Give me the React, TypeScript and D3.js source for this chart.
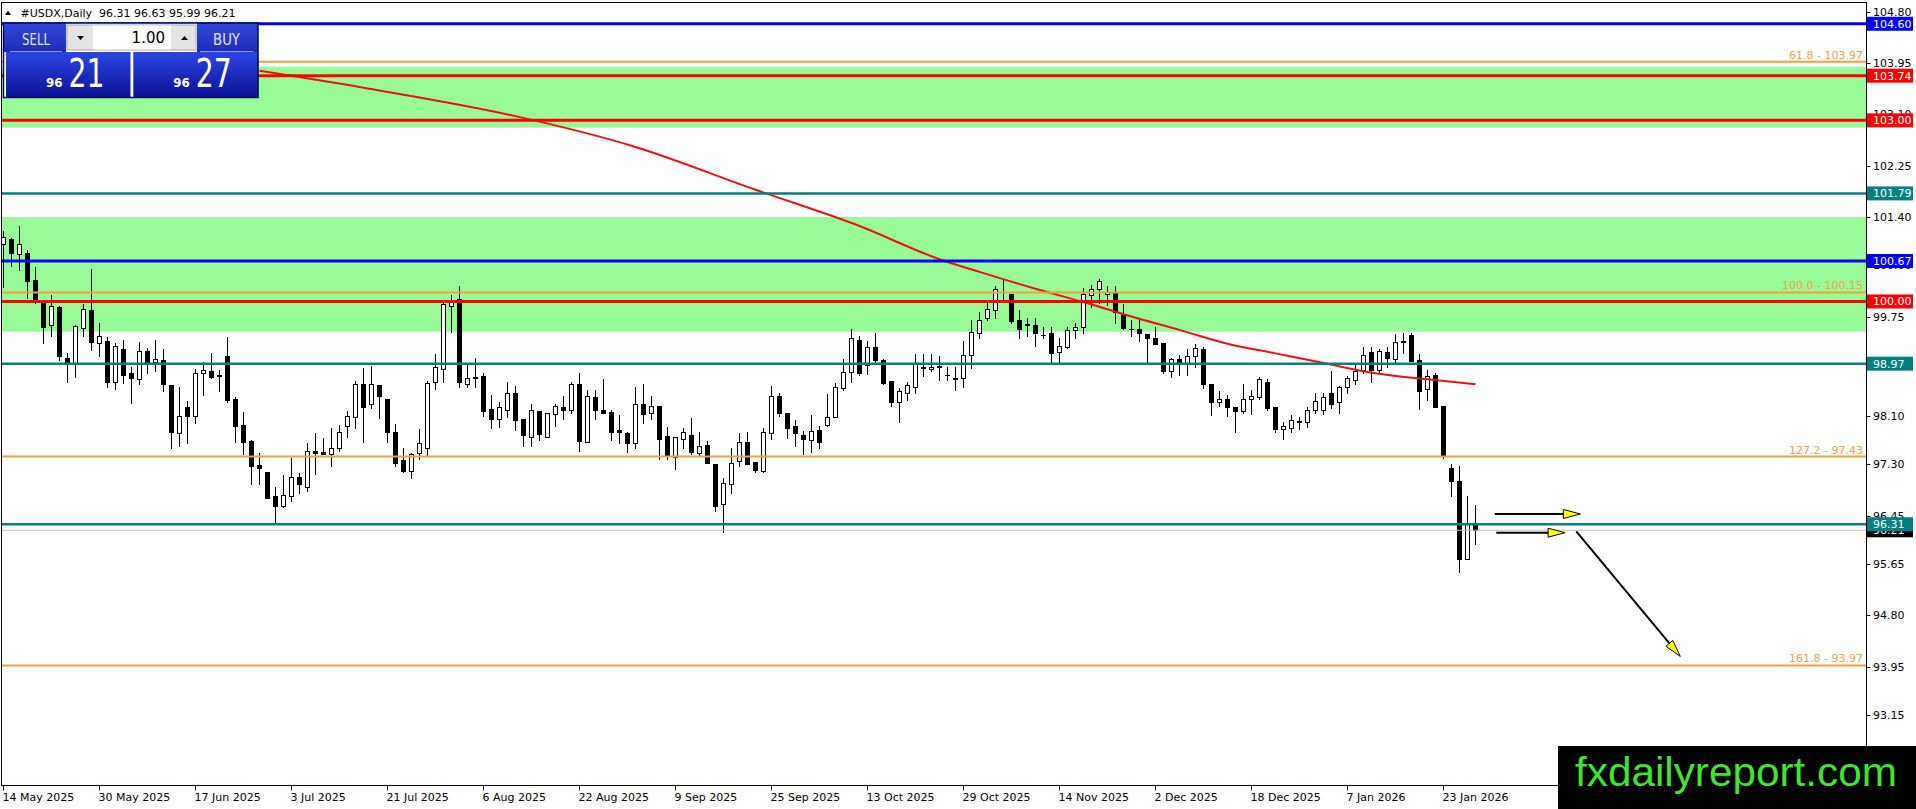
import React, { useEffect, useRef } from "react";
import * as d3 from "d3";

// daily candles, 14 May 2025 .. 27 Jan 2026
const opens = [
  100.96, 101.03, 100.78, 100.81, 100.36, 99.99, 99.61, 99.91, 99.06, 98.96,
  99.56, 99.86, 99.31, 99.34, 98.67, 99.22, 98.81, 98.71, 99.18, 98.99,
  99.03, 98.62, 97.82, 98.25, 98.11, 98.81, 98.85, 98.78, 99.1, 98.39,
  97.95, 97.69, 97.29, 97.17, 96.77, 96.62, 96.77, 97.09, 96.93, 97.52,
  97.5, 97.48, 97.58, 97.94, 98.08, 98.63, 98.3, 98.62, 98.38, 97.83,
  97.37, 97.19, 97.49, 97.58, 98.66, 98.88, 99.93, 100.04, 98.63, 98.75,
  98.77, 98.22, 98.05, 98.21, 98.49, 98.05, 97.76, 98.19, 97.76, 98.13,
  98.25, 98.21, 98.63, 97.68, 98.42, 98.21, 98.17, 97.87, 97.82, 97.66,
  98.3, 98.15, 98.27, 97.77, 97.43, 97.73, 97.79, 97.49, 97.62, 97.31,
  96.64, 96.98, 97.35, 97.67, 97.34, 97.19, 97.82, 98.44, 98.16, 97.94,
  97.79, 97.71, 97.87, 97.96, 98.09, 98.56, 98.83, 99.37, 98.95, 99.24,
  99.03, 98.68, 98.33, 98.48, 98.58, 98.92, 98.88, 98.93, 98.79, 98.73,
  98.73, 99.12, 99.47, 99.73, 99.86, 100.16, 100.13, 99.69, 99.62, 99.61,
  99.45, 99.47, 99.16, 99.25, 99.53, 99.58, 100.1, 100.2, 100.13, 100.16,
  99.8, 99.55, 99.54, 99.46, 99.4, 99.31, 98.84, 99.04, 98.96, 99.09,
  99.21, 98.63, 98.33, 98.38, 98.25, 98.19, 98.38, 98.41, 98.66, 98.25,
  97.88, 97.9, 98.02, 98.0, 98.2, 98.2, 98.48, 98.33, 98.58, 98.7,
  98.86, 99.16, 98.86, 99.16, 99.04, 99.35, 99.44, 99.03, 98.55, 98.78,
  98.27, 97.24, 97.03, 95.73, 96.31,
];
const highs = [
  101.16, 101.05, 101.25, 100.86, 100.57, 100.01, 100.11, 99.93, 99.14, 99.61,
  99.96, 100.54, 99.65, 99.41, 99.32, 99.37, 98.92, 99.33, 99.23, 99.37,
  99.21, 98.62, 98.58, 98.35, 98.88, 98.99, 99.15, 98.87, 99.41, 98.41,
  98.17, 97.71, 97.49, 97.17, 96.92, 97.13, 97.4, 97.16, 97.65, 97.82,
  97.74, 97.9, 97.95, 98.18, 98.69, 98.89, 98.93, 98.62, 98.38, 97.97,
  97.58, 97.49, 97.89, 98.69, 99.13, 99.97, 100.1, 100.26, 98.96, 99.06,
  98.82, 98.45, 98.34, 98.66, 98.6, 98.05, 98.3, 98.19, 98.16, 98.3,
  98.43, 98.67, 98.81, 98.53, 98.54, 98.71, 98.2, 98.12, 97.83, 98.59,
  98.63, 98.43, 98.27, 97.92, 97.75, 97.9, 98.07, 97.83, 97.69, 97.31,
  97.07, 97.58, 97.82, 97.83, 97.34, 97.9, 98.6, 98.48, 98.16, 98.03,
  97.86, 98.12, 97.94, 98.47, 98.65, 99.04, 99.54, 99.42, 99.34, 99.47,
  99.04, 98.68, 98.56, 98.67, 99.13, 99.13, 99.13, 99.1, 98.92, 98.92,
  99.34, 99.7, 99.82, 99.97, 100.26, 100.36, 100.13, 99.86, 99.72, 99.72,
  99.58, 99.58, 99.39, 99.58, 99.64, 100.23, 100.28, 100.38, 100.26, 100.26,
  99.95, 99.69, 99.71, 99.46, 99.57, 99.31, 99.06, 99.11, 99.21, 99.29,
  99.25, 98.63, 98.51, 98.45, 98.25, 98.63, 98.54, 98.75, 98.71, 98.25,
  98.01, 98.12, 98.09, 98.25, 98.48, 98.49, 98.85, 98.6, 98.77, 98.98,
  99.24, 99.24, 99.22, 99.24, 99.46, 99.47, 99.47, 99.13, 98.87, 98.81,
  98.27, 97.31, 97.28, 96.78, 96.63,
];
const lows = [
  100.24, 100.58, 100.52, 100.05, 99.97, 99.32, 99.42, 99.03, 98.67, 98.75,
  99.42, 99.2, 99.1, 98.59, 98.55, 98.65, 98.32, 98.64, 98.81, 98.84,
  98.51, 97.58, 97.61, 97.66, 97.99, 98.45, 98.73, 98.52, 98.33, 97.68,
  97.47, 96.97, 96.97, 96.74, 96.35, 96.59, 96.69, 96.83, 96.86, 97.15,
  97.47, 97.27, 97.53, 97.75, 97.91, 97.68, 98.24, 98.07, 97.68, 97.27,
  97.18, 97.08, 97.39, 97.46, 98.55, 98.67, 99.5, 98.59, 98.59, 98.59,
  98.11, 97.9, 97.92, 98.08, 97.87, 97.61, 97.61, 97.71, 97.76, 97.93,
  98.05, 98.16, 97.53, 97.68, 98.05, 98.15, 97.71, 97.66, 97.51, 97.58,
  97.99, 98.05, 97.39, 97.39, 97.22, 97.57, 97.47, 97.46, 97.33, 96.53,
  96.18, 96.82, 97.28, 97.31, 97.18, 97.18, 97.72, 98.11, 97.74, 97.61,
  97.47, 97.5, 97.58, 97.94, 98.09, 98.53, 98.67, 98.79, 98.8, 99.0,
  98.63, 98.27, 98.01, 98.37, 98.49, 98.77, 98.85, 98.7, 98.7, 98.54,
  98.59, 98.9, 99.4, 99.69, 99.72, 99.99, 99.65, 99.39, 99.43, 99.27,
  99.4, 98.99, 98.99, 99.23, 99.39, 99.47, 99.91, 99.97, 99.94, 99.64,
  99.54, 99.42, 99.35, 98.99, 99.3, 98.81, 98.75, 98.78, 98.78, 98.92,
  98.57, 98.12, 98.27, 98.1, 97.84, 98.16, 98.14, 98.39, 98.2, 97.83,
  97.72, 97.83, 97.89, 97.92, 98.16, 98.13, 98.23, 98.15, 98.48, 98.64,
  98.81, 98.66, 98.81, 98.92, 98.98, 99.14, 99.02, 98.22, 98.37, 98.26,
  97.4, 96.78, 95.52, 95.73, 95.99,
];
const closes = [
  101.06, 100.81, 100.96, 100.34, 100.04, 99.58, 99.93, 99.09, 99.0, 99.59,
  99.87, 99.33, 99.43, 98.67, 99.26, 98.79, 98.73, 99.18, 98.99, 99.04,
  98.63, 97.84, 98.11, 98.11, 98.81, 98.86, 98.75, 98.76, 98.36, 97.94,
  97.68, 97.28, 97.24, 96.75, 96.62, 96.79, 97.1, 96.97, 97.53, 97.49,
  97.48, 97.58, 97.84, 98.1, 98.63, 98.26, 98.63, 98.44, 97.83, 97.33,
  97.19, 97.47, 97.65, 98.65, 98.91, 99.96, 100.01, 98.67, 98.73, 98.74,
  98.19, 98.06, 98.25, 98.49, 98.04, 97.78, 98.2, 97.8, 98.15, 98.27,
  98.21, 98.63, 97.69, 98.43, 98.2, 98.16, 97.84, 97.83, 97.66, 98.3,
  98.13, 98.27, 97.72, 97.46, 97.75, 97.83, 97.51, 97.6, 97.33, 96.62,
  97.0, 97.33, 97.67, 97.31, 97.21, 97.84, 98.44, 98.16, 97.91, 97.82,
  97.72, 97.86, 97.68, 98.08, 98.58, 98.83, 99.39, 98.82, 99.24, 99.03,
  98.65, 98.34, 98.52, 98.62, 98.96, 98.89, 98.92, 98.91, 98.79, 98.71,
  99.11, 99.49, 99.7, 99.87, 100.2, 100.15, 99.68, 99.54, 99.61, 99.47,
  99.44, 99.15, 99.26, 99.52, 99.57, 100.12, 100.2, 100.34, 100.16, 99.83,
  99.56, 99.55, 99.47, 99.39, 99.3, 98.85, 99.04, 99.0, 99.1, 99.23,
  98.63, 98.34, 98.38, 98.26, 98.19, 98.38, 98.43, 98.72, 98.24, 97.88,
  97.94, 98.04, 98.0, 98.2, 98.35, 98.41, 98.3, 98.58, 98.73, 98.85,
  99.12, 98.86, 99.18, 99.07, 99.33, 99.33, 99.02, 98.52, 98.77, 98.26,
  97.44, 97.02, 95.73, 96.33, 96.21,
];

// moving average (bar index, value)
const maBars = [32, 45, 64, 79, 94, 107, 117, 122, 129, 135, 141, 147, 153, 159, 165, 171.5, 178, 184];
const maValues = [103.82, 103.54, 103.07, 102.56, 101.85, 101.25, 100.7, 100.49, 100.21, 99.99, 99.75, 99.53, 99.3, 99.14, 98.98, 98.81, 98.71, 98.63];

const dateBars = [0, 12, 24, 36, 48, 60, 72, 84, 96, 108, 120, 132, 144, 156, 168, 180];
const dateLabels = [
  "14 May 2025", "30 May 2025", "17 Jun 2025", "3 Jul 2025", "21 Jul 2025", "6 Aug 2025",
  "22 Aug 2025", "9 Sep 2025", "25 Sep 2025", "13 Oct 2025", "29 Oct 2025", "14 Nov 2025",
  "2 Dec 2025", "18 Dec 2025", "7 Jan 2026", "23 Jan 2026",
];
// 98.90 sits fully under the 98.97 tag, so it is left out
const priceTicks = [104.8, 103.95, 103.1, 102.25, 101.4, 100.6, 99.75, 98.1, 97.3, 96.45, 95.65, 94.8, 93.95, 93.15];

// objects on the chart
const zoneLows = [102.88, 99.5];
const zoneHighs = [103.89, 101.4];
const blueLevels = [104.6, 100.67];
const redLevels = [103.74, 103.0, 100.0];
const tealLevels = [101.79, 98.97, 96.31];
const fibLevels = [103.97, 100.15, 97.43, 93.97];
const fibRatios = ["61.8", "100.0", "127.2", "161.8"];
const bid = 96.21;
const ask = 96.27;
const lot = "1.00";

const arrowFromBars = [186.4, 186.6, 196.6];
const arrowFromPrices = [96.48, 96.17, 96.19];
const arrowToBars = [197.1, 195.2, 209.6];
const arrowToPrices = [96.48, 96.17, 94.12];

const W = 1916;
const H = 809;
const PLOT_R = 1866.5;
const PLOT_B = 785.5;
const FONT = "'DejaVu Sans', Tahoma, sans-serif";

export default function App() {
  const ref = useRef<SVGSVGElement>(null);

  useEffect(() => {
    if (!ref.current) return;
    const svg = d3.select(ref.current);
    svg.selectAll("*").remove();

    const x = d3.scaleLinear().domain([0, 184]).range([3.5, 3.5 + 8 * 184]);
    const y = d3.scaleLinear().domain([93.15, 104.8]).range([715, 11.7]);
    const px = (i: number) => Math.floor(x(i)) + 0.5;
    const py = (v: number) => Math.round(y(v)) + 0.5;

    svg.append("rect").attr("width", W).attr("height", H).attr("fill", "#fff");

    const defs = svg.append("defs");
    defs.append("clipPath").attr("id", "plot")
      .append("rect").attr("x", 2).attr("y", 3).attr("width", PLOT_R - 2).attr("height", PLOT_B - 3);
    const g1 = defs.append("linearGradient").attr("id", "bigbox").attr("x1", 0).attr("y1", 0).attr("x2", 0).attr("y2", 1);
    g1.append("stop").attr("offset", "0%").attr("stop-color", "#2a46e4");
    g1.append("stop").attr("offset", "100%").attr("stop-color", "#0a1294");
    const g2 = defs.append("linearGradient").attr("id", "smallbox").attr("x1", 0).attr("y1", 0).attr("x2", 0).attr("y2", 1);
    g2.append("stop").attr("offset", "0%").attr("stop-color", "#3448d8");
    g2.append("stop").attr("offset", "100%").attr("stop-color", "#1c2cb8");

    const plot = svg.append("g").attr("clip-path", "url(#plot)");

    // green zones
    zoneLows.forEach((lo, k) => {
      plot.append("rect")
        .attr("x", 0).attr("width", PLOT_R)
        .attr("y", y(zoneHighs[k])).attr("height", y(lo) - y(zoneHighs[k]))
        .attr("fill", "#98fb98");
    });

    // candles
    opens.forEach((o, i) => {
      const c = closes[i];
      const xc = px(i);
      plot.append("line")
        .attr("x1", xc).attr("x2", xc)
        .attr("y1", Math.round(y(highs[i]))).attr("y2", Math.round(y(lows[i])) + 1)
        .attr("stroke", "#000").attr("stroke-width", 1);
      const top = Math.round(y(Math.max(o, c))) + 0.5;
      const bot = Math.round(y(Math.min(o, c))) + 0.5;
      if (bot - top < 1) {
        plot.append("line")
          .attr("x1", xc - 2.5).attr("x2", xc + 2.5).attr("y1", top).attr("y2", top)
          .attr("stroke", "#000");
      } else {
        plot.append("rect")
          .attr("x", xc - 2).attr("width", 4)
          .attr("y", top).attr("height", bot - top)
          .attr("fill", c > o ? "#fff" : "#000")
          .attr("stroke", "#000").attr("stroke-width", 1);
      }
    });

    // moving average
    const ma = d3.line<number>()
      .x((d, k) => x(maBars[k]))
      .y((d) => y(d))
      .curve(d3.curveMonotoneX);
    plot.append("path").datum(maValues).attr("d", ma)
      .attr("fill", "none").attr("stroke", "#ee1111").attr("stroke-width", 2);

    // horizontal levels
    const hline = (v: number, color: string, w: number) =>
      plot.append("line").attr("x1", 0).attr("x2", PLOT_R)
        .attr("y1", y(v)).attr("y2", y(v))
        .attr("stroke", color).attr("stroke-width", w);

    hline(bid, "#c0c0c0", 1);
    fibLevels.forEach((v, k) => {
      hline(v, "#f2a03a", 2);
      plot.append("text")
        .attr("x", 1863).attr("y", y(v) - 3)
        .attr("text-anchor", "end")
        .attr("font-family", FONT).attr("font-size", 11)
        .attr("fill", "#f0a24e")
        .text(`${fibRatios[k]} - ${v.toFixed(2)}`);
    });
    redLevels.forEach((v) => hline(v, "#ff0000", 3));
    blueLevels.forEach((v) => hline(v, "#0000ff", 3));
    tealLevels.forEach((v) => hline(v, "#008080", 2.5));

    // arrows
    arrowFromBars.forEach((b, k) => {
      const x0 = x(b), y0 = y(arrowFromPrices[k]);
      const x1 = x(arrowToBars[k]), y1 = y(arrowToPrices[k]);
      const len = Math.hypot(x1 - x0, y1 - y0);
      const ux = (x1 - x0) / len, uy = (y1 - y0) / len;
      const bx = x1 - ux * 17, by = y1 - uy * 17;
      plot.append("line").attr("x1", x0).attr("y1", y0).attr("x2", bx).attr("y2", by)
        .attr("stroke", "#000").attr("stroke-width", 2);
      const pts = [
        [x1, y1],
        [bx - uy * 4.5, by + ux * 4.5],
        [bx + uy * 4.5, by - ux * 4.5],
      ];
      plot.append("polygon").attr("points", pts.map((p) => p.join(",")).join(" "))
        .attr("fill", "#ffff00").attr("stroke", "#000").attr("stroke-width", 1);
    });

    // frame
    svg.append("rect")
      .attr("x", 1.5).attr("y", 2.5).attr("width", PLOT_R - 1.5).attr("height", PLOT_B - 2.5)
      .attr("fill", "none").attr("stroke", "#000").attr("stroke-width", 1);

    // price axis
    priceTicks.forEach((v) => {
      svg.append("line").attr("x1", PLOT_R).attr("x2", PLOT_R + 4)
        .attr("y1", py(v)).attr("y2", py(v)).attr("stroke", "#000");
      svg.append("text").attr("x", 1873).attr("y", y(v) + 4)
        .attr("font-family", FONT).attr("font-size", 11).attr("fill", "#000")
        .text(v.toFixed(2));
    });

    const tag = (v: number, bg: string) => {
      svg.append("rect").attr("x", 1867).attr("y", y(v) - 7)
        .attr("width", 46).attr("height", 14).attr("fill", bg);
      svg.append("text").attr("x", 1873).attr("y", y(v) + 4)
        .attr("font-family", FONT).attr("font-size", 11).attr("fill", "#fff")
        .text(v.toFixed(2));
    };
    tag(bid, "#000");
    blueLevels.forEach((v) => tag(v, "#0000ff"));
    redLevels.forEach((v) => tag(v, "#ff0000"));
    tealLevels.forEach((v) => tag(v, "#008080"));

    // time axis
    dateBars.forEach((b, k) => {
      svg.append("line").attr("x1", px(b)).attr("x2", px(b))
        .attr("y1", PLOT_B).attr("y2", PLOT_B + 5).attr("stroke", "#000");
      svg.append("text").attr("x", px(b) - 1).attr("y", 801)
        .attr("font-family", FONT).attr("font-size", 11).attr("fill", "#000")
        .text(dateLabels[k]);
    });

    // title
    svg.append("polygon").attr("points", "5,15 11,15 8,10.5").attr("fill", "#000");
    svg.append("text").attr("x", 20.5).attr("y", 16.5)
      .attr("font-family", FONT).attr("font-size", 11).attr("fill", "#000")
      .style("white-space", "pre")
      .text(`#USDX,Daily  ${opens[184].toFixed(2)} ${highs[184].toFixed(2)} ${lows[184].toFixed(2)} ${closes[184].toFixed(2)}`);

    // one-click trading panel
    const panel = svg.append("g");
    panel.append("rect").attr("x", 3).attr("y", 23).attr("width", 255).attr("height", 75).attr("fill", "#fff");
    panel.append("rect").attr("x", 3).attr("y", 23).attr("width", 63).attr("height", 29).attr("fill", "url(#smallbox)");
    panel.append("rect").attr("x", 197).attr("y", 23).attr("width", 61).attr("height", 29).attr("fill", "url(#smallbox)");
    panel.append("line").attr("x1", 10).attr("x2", 62).attr("y1", 51.5).attr("y2", 51.5).attr("stroke", "#8c9cf4");
    panel.append("line").attr("x1", 200).attr("x2", 253).attr("y1", 51.5).attr("y2", 51.5).attr("stroke", "#8c9cf4");
    panel.append("text").attr("x", 22).attr("y", 45).attr("textLength", 28).attr("lengthAdjust", "spacingAndGlyphs")
      .attr("font-family", FONT).attr("font-size", 15).attr("fill", "#dfe6ff").text("SELL");
    panel.append("text").attr("x", 213).attr("y", 45).attr("textLength", 27).attr("lengthAdjust", "spacingAndGlyphs")
      .attr("font-family", FONT).attr("font-size", 15).attr("fill", "#dfe6ff").text("BUY");

    panel.append("rect").attr("x", 67).attr("y", 25).attr("width", 129).attr("height", 25)
      .attr("fill", "#e4e4e4").attr("stroke", "#a8a8a8");
    panel.append("rect").attr("x", 93).attr("y", 25.5).attr("width", 78).attr("height", 24).attr("fill", "#fff");
    panel.append("polygon").attr("points", "77,36 84,36 80.5,40").attr("fill", "#000");
    panel.append("polygon").attr("points", "181,40 188,40 184.5,36").attr("fill", "#000");
    panel.append("text").attr("x", 165).attr("y", 43).attr("text-anchor", "end")
      .attr("font-family", FONT).attr("font-size", 15).attr("fill", "#000").text(lot);

    const big = (x0: number, w: number, price: number) => {
      panel.append("rect").attr("x", x0).attr("y", 52).attr("width", w).attr("height", 45.5).attr("fill", "url(#bigbox)");
      const [head, tail] = price.toFixed(2).split(".");
      panel.append("text").attr("x", x0 + 40).attr("y", 87).attr("textLength", 16.5).attr("lengthAdjust", "spacingAndGlyphs")
        .attr("font-family", FONT).attr("font-size", 13).attr("font-weight", "bold").attr("fill", "#fff").text(head);
      panel.append("text").attr("x", x0 + 62.5).attr("y", 87).attr("textLength", 36).attr("lengthAdjust", "spacingAndGlyphs")
        .attr("font-family", FONT).attr("font-size", 39).attr("fill", "#fff").text(tail);
    };
    big(6, 124.5, bid);
    big(133.3, 125, ask);
    panel.append("rect").attr("x", 3.5).attr("y", 23).attr("width", 254.5).attr("height", 74.5)
      .attr("fill", "none").attr("stroke", "#00085c").attr("stroke-width", 1.5);

    // watermark
    svg.append("rect").attr("x", 1558).attr("y", 746).attr("width", W - 1558).attr("height", H - 746).attr("fill", "#000");
    svg.append("text").attr("x", 1575).attr("y", 786).attr("textLength", 322).attr("lengthAdjust", "spacingAndGlyphs")
      .attr("font-family", "'Liberation Sans', Arial, sans-serif").attr("font-size", 41)
      .attr("fill", "#3fe52e").text("fxdailyreport.com");
  }, []);

  return (
    <svg
      ref={ref}
      width={W}
      height={H}
      style={{ position: "absolute", left: 0, top: 0, display: "block" }}
    />
  );
}
